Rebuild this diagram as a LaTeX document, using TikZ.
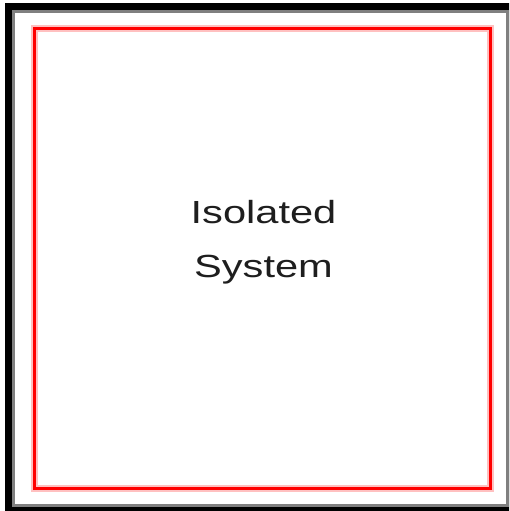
\documentclass[tikz,border=0pt]{standalone}
\usepackage{fontspec}
\newfontfamily\labelfont{Liberation Sans}[FakeStretch=1.3]
\definecolor{shadegray}{HTML}{808080}
\definecolor{wallred}{HTML}{FF0000}
\definecolor{halored}{HTML}{FFC0C0}
\definecolor{textgray}{HTML}{1E1E1E}
\begin{document}
\begin{tikzpicture}[x=1pt, y=-1pt,
  outer/.style={draw=black, line width=7pt},
  inner/.style={draw=shadegray, line width=3pt},
  halo/.style={draw=halored, line width=7pt},
  wall/.style={draw=wallred, line width=3pt},
  every node/.style={font=\labelfont\fontsize{32}{54}\selectfont, text=textgray}]
  \useasboundingbox (0,0) rectangle (509,511);
  \clip (0,0) rectangle (509,511);
  % Surroundings frame
  \draw[outer] (8.5,6.5) rectangle (512,510.5);
  \draw[inner] (13.5,11.5) rectangle (507,505.5);
  % System boundary
  \draw[halo] (34,28.5) rectangle (490.5,488.5);
  \draw[wall] (34,28.5) rectangle (490.5,488.5);
  % Label
  \node[align=center, inner sep=0pt] (label) at (263.5,242) {Isolated\\System};
\end{tikzpicture}
\end{document}
